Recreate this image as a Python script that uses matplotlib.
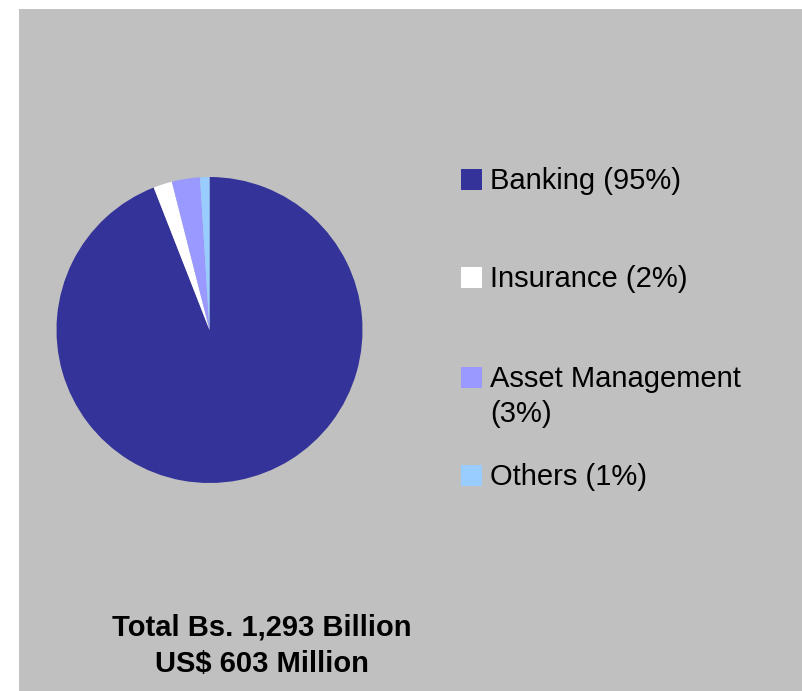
import matplotlib.pyplot as plt
import matplotlib.patches as mpatches

W, H = 802, 691
BG = "#c0c0c0"

segments = ["Banking", "Insurance", "Asset Management", "Others"]
shares = [95, 2, 3, 1]
colors = ["#333399", "#ffffff", "#9999ff", "#99ccff"]
legend_labels = ["Banking (95%)", "Insurance (2%)", "Asset Management\n(3%)", "Others (1%)"]
total_lines = ["Total Bs. 1,293 Billion", "US$ 603 Million"]

plt.rcParams["font.family"] = ["Liberation Sans", "DejaVu Sans"]

fig = plt.figure(figsize=(W / 100, H / 100), dpi=100)
fig.patch.set_facecolor("white")


def fx(px):
    return px / W


def fy(py):
    # pixel row measured from the top
    return 1 - py / H


# grey panel behind everything
fig.patches.append(mpatches.Rectangle((fx(19), 0), 1 - fx(19), fy(9),
                                      transform=fig.transFigure,
                                      facecolor=BG, edgecolor="none", zorder=-5))

# pie
cx, cy, r = 209.5, 330, 153
ax = fig.add_axes([fx(cx - r), fy(cy + r), 2 * r / W, 2 * r / H])
ax.set_zorder(1)
ax.patch.set_visible(False)
ax.pie(shares, colors=colors, startangle=90, counterclock=False,
       radius=1.0, wedgeprops=dict(linewidth=0))
ax.set_xlim(-1, 1)
ax.set_ylim(-1, 1)
ax.set_aspect("equal")
ax.axis("off")

# legend
row_tops = [169, 267, 367, 465]
sq = 21
line_gap = 35
for top, label, col in zip(row_tops, legend_labels, colors):
    fig.patches.append(mpatches.Rectangle((fx(461), fy(top + sq)), sq / W, sq / H,
                                          transform=fig.transFigure,
                                          facecolor=col, edgecolor="none", zorder=2))
    for i, line in enumerate(label.split("\n")):
        fig.text(fx(490), fy(top + sq - 1 + i * line_gap), line, fontsize=21,
                 color="black", ha="left", va="baseline")

# total
for i, line in enumerate(total_lines):
    fig.text(fx(262), fy(635 + i * 37), line, fontsize=21, fontweight="bold",
             color="black", ha="center", va="baseline")

fig.savefig("out.png", dpi=100, facecolor="white")
